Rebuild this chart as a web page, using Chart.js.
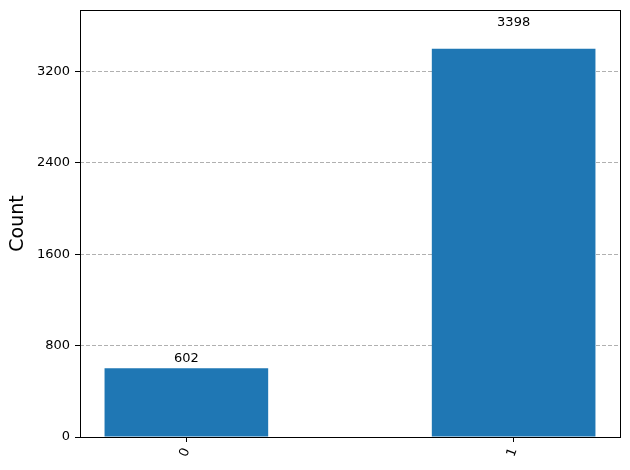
<!DOCTYPE html>
<html>
<head>
<meta charset="utf-8">
<script src="https://cdn.jsdelivr.net/npm/chart.js@4"></script>
<style>
  body { margin: 0; background: #fff; }
  #wrap { width: 630px; height: 470px; }
</style>
</head>
<body>
<div id="wrap"><canvas id="myChart" width="630" height="470"></canvas></div>
<script>
const categories = ['0', '1'];
const counts = [602, 3398];
const yTicks = [0, 800, 1600, 2400, 3200];
const yMax = 3398 * 1.1;

const FONT = 'DejaVu Sans';

// value labels above bars + full frame round the plot
const barLabels = {
    id: 'barLabels',
    afterDatasetsDraw(chart) {
        const { ctx, scales } = chart;
        ctx.save();
        ctx.font = '13px "' + FONT + '"';
        ctx.fillStyle = '#000';
        ctx.textAlign = 'center';
        ctx.textBaseline = 'alphabetic';
        counts.forEach((v, i) => {
            const x = scales.x.getPixelForValue(i);
            const y = scales.y.getPixelForValue(v * 1.05);
            ctx.fillText(String(v), x, y - 3);
        });
        ctx.restore();
    },
    afterDraw(chart) {
        const { ctx, chartArea: a } = chart;
        ctx.save();
        ctx.strokeStyle = '#000';
        ctx.lineWidth = 1;
        ctx.strokeRect(Math.round(a.left) + 0.5, Math.round(a.top) + 0.5,
            Math.round(a.right - a.left), Math.round(a.bottom - a.top));
        ctx.restore();
    }
};

const ctx = document.getElementById('myChart').getContext('2d');
new Chart(ctx, {
    type: 'bar',
    data: {
        datasets: [{
            data: counts.map((v, i) => ({ x: i, y: v })),
            backgroundColor: '#1f77b4',
            borderColor: '#1f77b4',
            borderWidth: 0,
            categoryPercentage: 1,
            barPercentage: 0.5
        }]
    },
    options: {
        responsive: false,
        animation: false,
        layout: { padding: { top: 10, right: 10, left: 0, bottom: 0 } },
        plugins: { legend: { display: false }, tooltip: { enabled: false } },
        scales: {
            x: {
                type: 'linear',
                offset: false,
                min: -0.325,
                max: 1.325,
                afterBuildTicks: s => { s.ticks = categories.map((c, i) => ({ value: i })); },
                afterFit: s => {
                    s.height = 33;
                    s.paddingLeft = 0; s.paddingRight = 0;
                    s.paddingTop = 0; s.paddingBottom = 0;
                },
                grid: { offset: false, drawOnChartArea: false, tickLength: 5, tickColor: '#000' },
                border: { display: false },
                ticks: {
                    minRotation: 70, maxRotation: 70, padding: 4,
                    color: '#000',
                    font: { family: FONT, size: 13 },
                    callback: v => categories[v]
                }
            },
            y: {
                min: 0,
                max: yMax,
                afterBuildTicks: s => { s.ticks = yTicks.map(v => ({ value: v })); },
                afterFit: s => { s.width = 80; s.paddingTop = 0; s.paddingBottom = 0; },
                grid: { color: '#b0b0b0', tickLength: 5, tickColor: '#000', tickBorderDash: [] },
                border: { display: false, dash: [4, 2] },
                ticks: {
                    padding: 5, color: '#000',
                    font: { family: FONT, size: 13 },
                    callback: v => String(v)
                },
                title: {
                    display: true,
                    text: 'Count',
                    color: '#000',
                    font: { family: FONT, size: 19 },
                    padding: { top: 7, bottom: 0 }
                }
            }
        }
    },
    plugins: [barLabels]
});
</script>
</body>
</html>
